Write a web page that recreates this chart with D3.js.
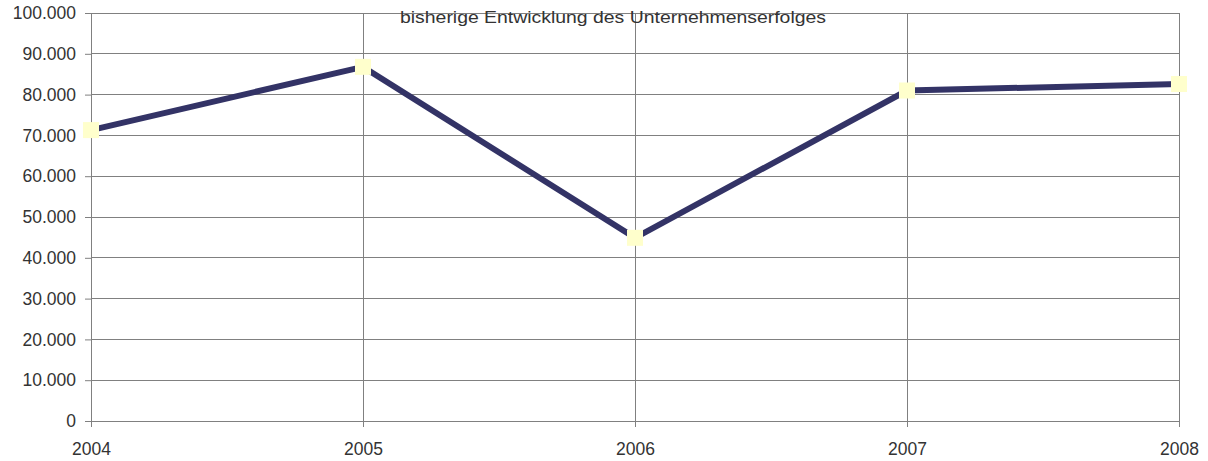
<!DOCTYPE html>
<html><head><meta charset="utf-8">
<script src="https://cdn.jsdelivr.net/npm/d3@7"></script>
<style>body{margin:0;background:#fff;} svg{display:block;font-family:"Liberation Sans",Arial,sans-serif;}</style>
</head><body>
<svg id="c" width="1208" height="461"></svg>
<script>
const categories = ["2004","2005","2006","2007","2008"];
const values = [71300, 86800, 44900, 81000, 82600];
const yTicks = [0,10000,20000,30000,40000,50000,60000,70000,80000,90000,100000];
const title = "bisherige Entwicklung des Unternehmenserfolges";

const svg = d3.select("#c");
const x = d3.scalePoint().domain(categories).range([91, 1179]);
const y = d3.scaleLinear().domain([0,100000]).range([421, 13]);

// grid
svg.append("g").selectAll("line").data(yTicks).join("line")
  .attr("x1", 91).attr("x2", 1179).attr("y1", d=>y(d)).attr("y2", d=>y(d))
  .attr("stroke", "#808080").attr("stroke-width", 1).attr("shape-rendering","crispEdges");
svg.append("g").selectAll("line").data(categories).join("line")
  .attr("x1", d=>x(d)).attr("x2", d=>x(d)).attr("y1", 13).attr("y2", 421)
  .attr("stroke", "#808080").attr("stroke-width", 1).attr("shape-rendering","crispEdges");

// axes
const ya = d3.axisLeft(y).tickValues(yTicks).tickSize(6).tickPadding(9)
  .tickFormat(d => d === 0 ? "0" : (d/1000).toFixed(3));
const gy = svg.append("g").attr("transform","translate(91,0)").call(ya);
gy.attr("font-size", null).attr("font-family", null);
gy.select(".domain").attr("stroke","#808080");
gy.selectAll(".tick line").attr("stroke","#808080");
gy.selectAll("text").style("font-size", "17.5px").attr("fill","#333");

const xa = d3.axisBottom(x).tickSize(6).tickPadding(16);
const gx = svg.append("g").attr("transform","translate(0,421)").call(xa);
gx.attr("font-size", null).attr("font-family", null);
gx.select(".domain").attr("stroke","#808080");
gx.selectAll(".tick line").attr("stroke","#808080");
gx.selectAll("text").style("font-size", "17.5px").attr("fill","#333");

// title
svg.append("text").attr("x", 400).attr("y", 23).attr("text-anchor","start")
  .style("font-size", "17px").attr("fill","#333")
  .attr("textLength", 426).attr("lengthAdjust","spacingAndGlyphs").text(title);

// line
const data = categories.map((c,i)=>({c, v: values[i]}));
svg.append("path").datum(data)
  .attr("d", d3.line().x(d=>x(d.c)).y(d=>y(d.v)))
  .attr("fill","none").attr("stroke","#333366").attr("stroke-width",6).attr("stroke-linejoin","miter");
svg.append("g").selectAll("rect").data(data).join("rect")
  .attr("x", d=>x(d.c)-8).attr("y", d=>y(d.v)-8).attr("width",16).attr("height",16)
  .attr("fill","#FFFFCC");
</script>
</body></html>
